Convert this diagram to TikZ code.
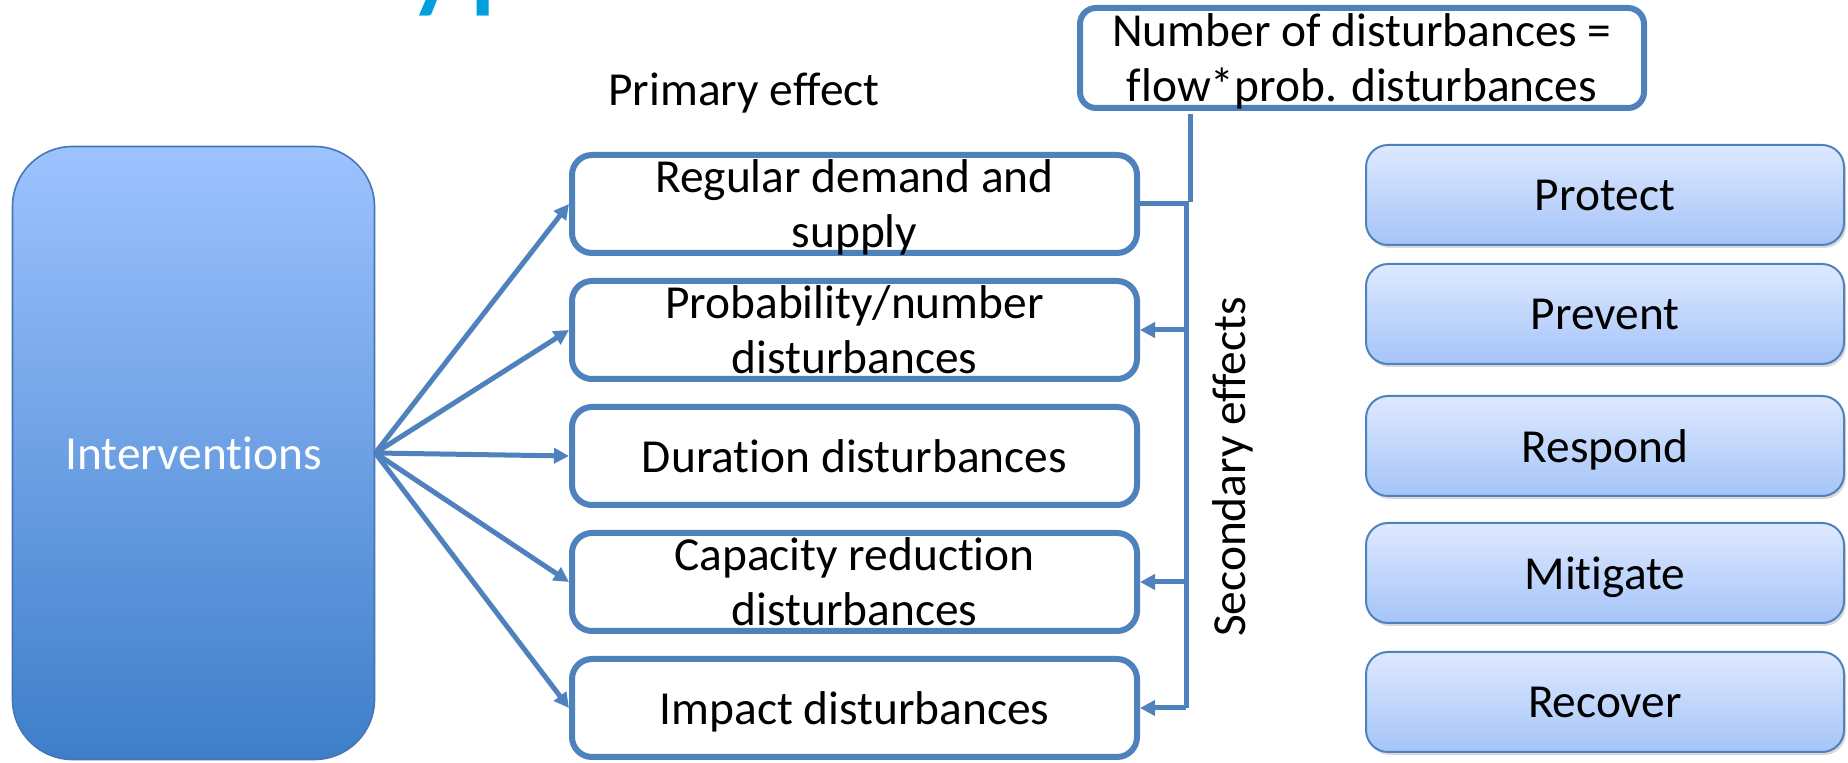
\documentclass[tikz,border=0pt]{standalone}
\usepackage{fontspec}
\setmainfont{Carlito}[Ligatures={NoCommon,NoContextual},RawFeature={-liga;-clig;-calt;-dlig}]
\usetikzlibrary{arrows.meta,shadows}
\definecolor{lineblue}{RGB}{79,129,189}
\definecolor{titlecyan}{RGB}{0,160,220}
\definecolor{intertop}{RGB}{157,195,255}
\definecolor{interbot}{RGB}{62,126,201}
\definecolor{interedge}{RGB}{70,118,180}
\definecolor{phasetop}{RGB}{222,233,255}
\definecolor{phasebot}{RGB}{165,196,248}
\begin{document}
\begin{tikzpicture}[x=0.5pt,y=-0.5pt,
  bodyfont/.style={font=\fontsize{23.7pt}{27.5pt}\selectfont},
  effectbox/.style={bodyfont, draw=lineblue, line width=3pt, fill=white, rounded corners=10pt,
    minimum width=282.5pt, minimum height=49pt, align=center, inner sep=0pt, text depth=0pt},
  phasebox/.style={bodyfont, draw=lineblue, line width=1pt, rounded corners=11pt,
    top color=phasetop, bottom color=phasebot, minimum width=239pt, minimum height=50pt,
    inner sep=0pt, text depth=0pt,
    drop shadow={shadow xshift=1pt, shadow yshift=-1.5pt, opacity=0.3}},
  interbox/.style={bodyfont, draw=interedge, line width=0.8pt, rounded corners=30pt,
    top color=intertop, bottom color=interbot, minimum width=181pt, minimum height=306.5pt,
    text=white, inner sep=0pt, text depth=0pt},
  conn/.style={draw=lineblue, line width=2.5pt},
  arr/.style={conn, -{Triangle[length=7.5pt,width=7.5pt]}},
]
\useasboundingbox (0,0) rectangle (1848,763);
\begin{scope}
  \clip (0,0) rectangle (1848,763);
  \node[anchor=south west, inner sep=0pt, text=titlecyan, font=\fontsize{70pt}{80pt}\selectfont] (title) at (404,16) {yp};
\end{scope}

\node[bodyfont, anchor=base, inner sep=0pt] (primary) at (744,106) {Primary effect};

\node[effectbox, minimum width=282pt, minimum height=50pt, rounded corners=8pt] (num) at (1362,58)
  {Number of disturbances =\\flow*prob. disturbances};

\node[interbox] (inter) at (193.5,453) {Interventions};

\node[effectbox] (b1) at (854.5,204) {Regular demand and\\supply};
\node[effectbox] (b2) at (854.5,330) {Probability/number\\disturbances};
\node[effectbox] (b3) at (854.5,456) {Duration disturbances};
\node[effectbox] (b4) at (854.5,582) {Capacity reduction\\disturbances};
\node[effectbox] (b5) at (854.5,708) {Impact disturbances};

\foreach \b in {b1,b2,b3,b4,b5} \draw[arr] (inter.east) -- (\b.west);

\coordinate (rail) at (1186,0);
\coordinate (topx) at (1190,202);
\coordinate (topy) at (1190,114);
\draw[conn] (topy) -- (topx);
\draw[conn] (b1.east) -- (b1.east -| rail) -- (b5.east -| rail);
\draw[arr] (b2.east -| rail) -- (b2.east);
\draw[arr] (b4.east -| rail) -- (b4.east);
\draw[arr] (b5.east -| rail) -- (b5.east);

\node[bodyfont, rotate=90, inner sep=0pt] (sec) at (1233,467) {Secondary effects};

\node[phasebox] (protect) at (1605,195) {Protect};
\node[phasebox] (prevent) at (1605,314) {Prevent};
\node[phasebox] (respond) at (1605,446) {Respond};
\node[phasebox] (mitigate) at (1605,573) {Mitigate};
\node[phasebox] (recover) at (1605,702) {Recover};
\end{tikzpicture}
\end{document}
